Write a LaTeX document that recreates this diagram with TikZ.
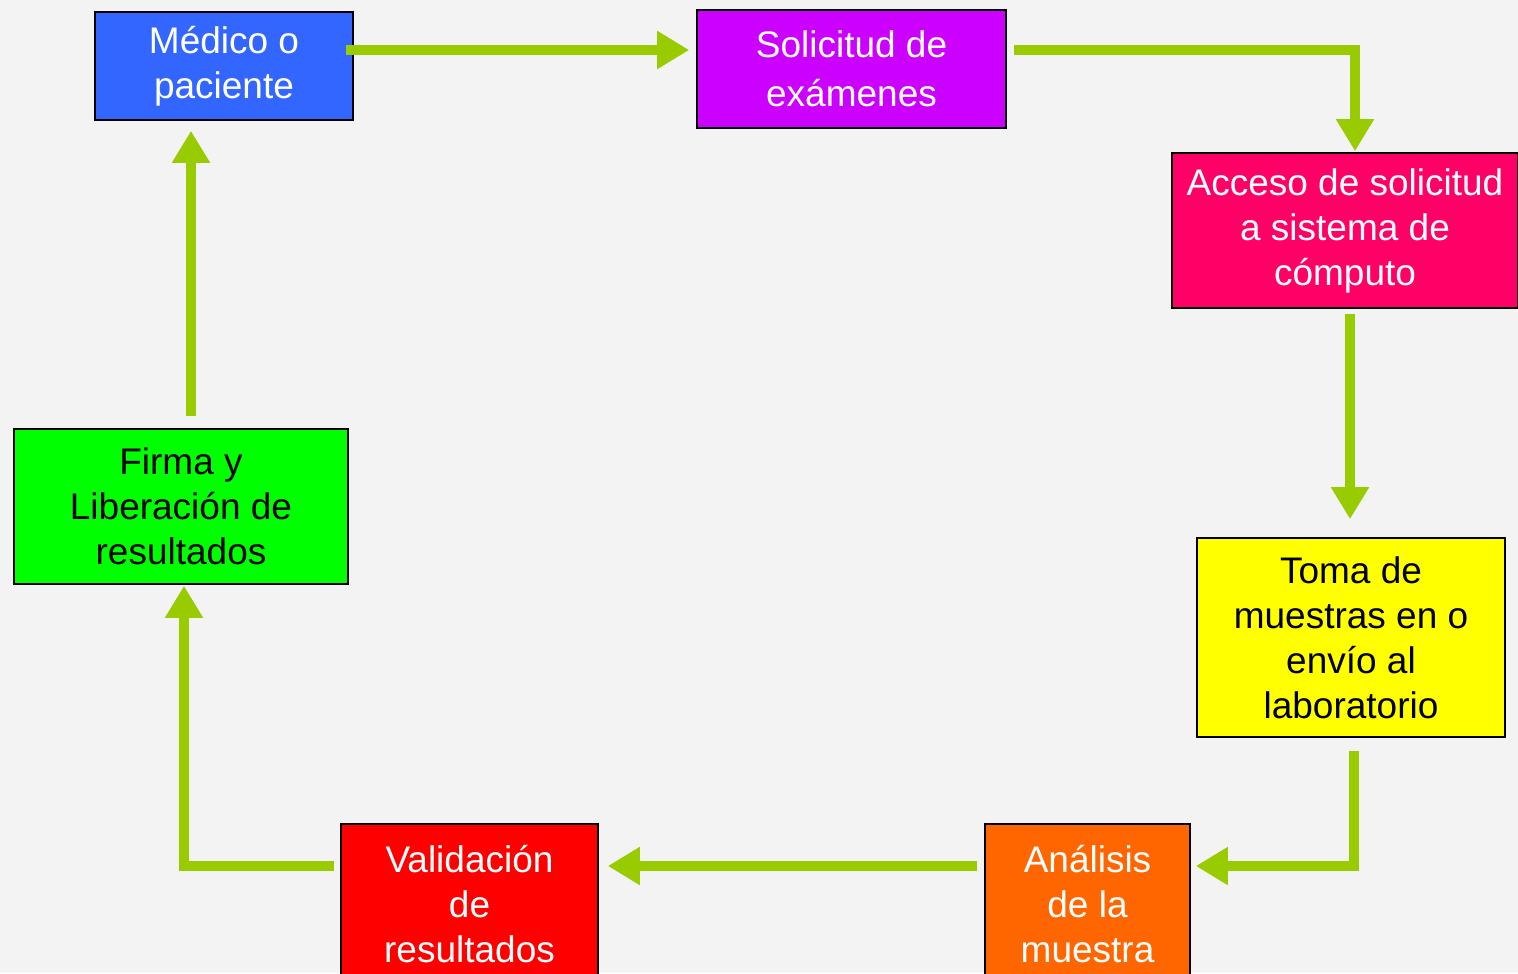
\documentclass[tikz,border=0pt]{standalone}
\usepackage{fontspec}
\setmainfont{Liberation Sans}
\usepackage{tikz}
\usetikzlibrary{arrows.meta,positioning,calc}
\definecolor{fondo}{HTML}{F3F3F3}
\definecolor{flecha}{HTML}{99CC00}
\definecolor{azul}{HTML}{3366FF}
\definecolor{morado}{HTML}{CC00FF}
\definecolor{rosa}{HTML}{FF0066}
\definecolor{amarillo}{HTML}{FFFF00}
\definecolor{naranja}{HTML}{FF6600}
\definecolor{rojo}{HTML}{FF0000}
\definecolor{verde}{HTML}{00FF00}
\begin{document}
\begin{tikzpicture}[
  x=0.5pt,y=-0.5pt,
  every node/.style={font=\fontsize{18.5}{22.5}\selectfont,align=center},
  caja/.style={draw=black,line width=0.8pt,inner sep=0pt,text=white},
  cajanegra/.style={caja,text=black},
  arr/.style={-{Triangle[length=16pt,width=18pt]},line width=5pt,flecha}
]
\path[use as bounding box,fill=fondo] (0,0) rectangle (1518,973);
\node[caja,fill=azul,minimum width=129pt,minimum height=54pt] (medico) at (224,66) {Médico o\\paciente};
\node[caja,fill=morado,minimum width=154.5pt,minimum height=59pt] (solicitud) at (851.5,69) {Solicitud de\\[2pt]exámenes};
\node[caja,fill=rosa,minimum width=173pt,minimum height=77.5pt] (acceso) at (1345,230.5) {Acceso de solicitud\\a sistema de\\cómputo};
\node[cajanegra,fill=amarillo,minimum width=154pt,minimum height=99.5pt] (toma) at (1351,637.5) {Toma de\\muestras en o\\envío al\\laboratorio};
\node[caja,fill=naranja,minimum width=102.5pt,minimum height=80pt] (analisis) at (1087.5,904) {Análisis\\de la\\muestra};
\node[caja,fill=rojo,minimum width=128.5pt,minimum height=80pt] (validacion) at (469.5,904) {Validación\\de\\resultados};
\node[cajanegra,fill=verde,minimum width=167pt,minimum height=77.5pt] (firma) at (181,506.5) {Firma y\\Liberación de\\resultados};
\draw[arr] ($(medico.east)+(-8,-16)$) -- ($(medico.east -| solicitud.west)+(-7,-16)$);
\draw[arr] ($(solicitud.east)+(7,-19)$) -| ($(acceso.north)+(10,-1)$);
\draw[arr] ($(acceso.south)+(5,5)$) -- ($(toma.north)+(-1,-18)$);
\draw[arr] ($(toma.south)+(3,13)$) |- ($(analisis.east)+(5,-38)$);
\draw[arr] ($(analisis.west)+(-7,-38)$) -- ($(validacion.east)+(9,-38)$);
\draw[arr] ($(validacion.west)+(-6,-38)$) -| ($(firma.south)+(3,1)$);
\draw[arr] ($(firma.north)+(10,-12)$) -- ($(medico.south -| firma.north)+(10,10)$);
\end{tikzpicture}
\end{document}
